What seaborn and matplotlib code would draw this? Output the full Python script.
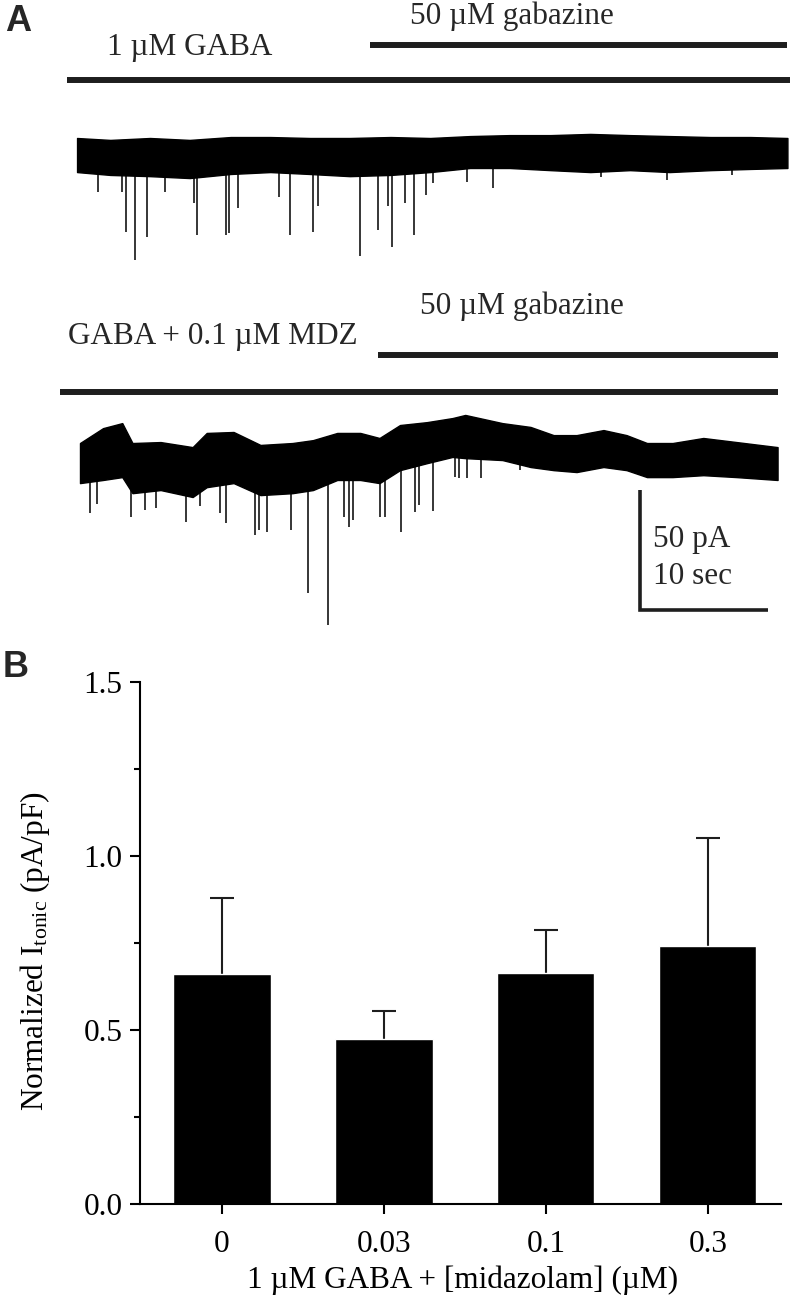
import numpy as np
import pandas as pd
import matplotlib
matplotlib.use("Agg")
import matplotlib.pyplot as plt
import seaborn as sns

# ---- panel B: normalized tonic current ----
conc_labels = ["0", "0.03", "0.1", "0.3"]
itonic_mean = [0.661, 0.474, 0.664, 0.741]
itonic_sem = [0.218, 0.079, 0.122, 0.309]

# ---- panel A, trace 1 (1 uM GABA -> gabazine) ----
# noise envelope (s, pA relative to holding level)
tr1_t = [0.0, 2.6, 5.7, 8.8, 12.0, 15.1, 18.2, 21.3, 24.5, 27.6,
         30.7, 33.8, 37.0, 40.1, 43.2, 46.3, 49.5, 52.6, 55.5]
tr1_hi = [7.1, 6.3, 7.1, 6.3, 7.5, 7.5, 7.1, 7.1, 7.5, 7.1,
          7.9, 8.3, 8.3, 8.8, 8.3, 7.9, 7.5, 7.5, 7.1]
tr1_lo = [-7.1, -8.3, -8.8, -9.6, -7.9, -7.1, -7.9, -8.8, -8.3, -7.1,
          -5.4, -5.4, -6.3, -7.1, -6.3, -7.1, -6.3, -5.8, -5.4]
# spontaneous events: time (s), peak (pA)
ev1_t = [1.6, 3.5, 3.8, 4.5, 5.5, 6.9, 9.1, 9.4, 11.6, 11.9, 12.6, 15.8,
         16.6, 18.4, 18.8, 22.1, 23.5, 24.3, 24.6, 25.6, 26.3, 27.3, 27.8,
         30.5, 32.5, 40.9, 46.1, 51.2]
ev1_amp = [-15.4, -15.4, -32.1, -43.8, -34.2, -15.4, -20.0, -33.3, -33.3,
           -32.5, -22.1, -17.5, -33.3, -32.1, -21.3, -42.1, -31.3, -21.3,
           -38.3, -20.0, -33.3, -16.7, -11.7, -11.3, -13.8, -9.2, -10.4, -8.3]

# ---- panel A, trace 2 (GABA + 0.1 uM MDZ -> gabazine) ----
tr2_t = [0.0, 1.8, 3.3, 4.1, 6.3, 8.8, 9.9, 12.0, 14.1, 16.6, 18.2, 20.1,
         21.9, 23.4, 25.0, 27.1, 29.1, 30.1, 33.0, 35.2, 37.0, 38.8, 40.9,
         42.7, 44.3, 46.3, 48.7, 51.3, 54.5]
tr2_hi = [7.1, 13.3, 15.4, 7.1, 7.5, 5.4, 11.3, 11.7, 6.3, 7.1, 8.3, 11.3,
          11.3, 9.2, 14.6, 15.8, 17.5, 18.8, 15.4, 13.8, 10.4, 10.4, 12.5,
          10.4, 7.1, 7.1, 9.2, 7.5, 5.4]
tr2_lo = [-9.6, -8.3, -7.1, -13.8, -12.5, -15.4, -11.3, -9.6, -14.6, -13.8,
          -12.5, -8.3, -8.3, -9.6, -4.2, -1.3, 1.3, 0.8, 0.0, -2.9, -4.2,
          -5.0, -2.9, -4.2, -7.1, -7.1, -6.3, -7.1, -8.3]
ev2_t = [0.8, 1.3, 4.0, 5.1, 5.9, 8.3, 9.4, 10.9, 11.4, 13.7, 14.0, 14.6,
         16.5, 17.8, 19.4, 20.6, 21.0, 21.3, 23.4, 23.8, 25.1, 26.2, 26.5,
         27.6, 29.3, 29.6, 30.2, 31.3, 34.4]
ev2_amp = [-22.1, -18.3, -23.8, -20.8, -20.0, -25.8, -19.2, -22.1, -26.3,
           -31.3, -29.2, -30.0, -29.2, -55.4, -68.8, -23.8, -27.9, -25.0,
           -23.8, -23.8, -30.0, -21.7, -18.8, -21.3, -7.1, -7.5, -7.5, -7.5,
           -4.2]

scale_pa = 50
scale_sec = 10

sns.set_theme(style="ticks")
plt.rcParams["font.family"] = ["Liberation Serif", "DejaVu Serif"]
plt.rcParams["mathtext.fontset"] = "custom"
plt.rcParams["mathtext.rm"] = "Liberation Serif"
plt.rcParams["mathtext.it"] = "Liberation Serif:italic"

FS = 22.5
INK = "#1e1e1e"

fig = plt.figure(figsize=(7.91, 13.02), dpi=100)

# ================= panel A =================
ax_a = fig.add_axes([0, 0.5084, 1, 0.4916])
ax_a.set_xlim(-6.02, 55.78)
ax_a.set_ylim(-202.1, 64.6)
ax_a.axis("off")


def draw_trace(ax, t, hi, lo, ev_t, ev_amp, t0, y0):
    t = np.asarray(t) + t0
    hi = np.asarray(hi) + y0
    lo = np.asarray(lo) + y0
    ax.fill_between(t, lo, hi, color="black", lw=1.0, edgecolor="black")
    start = np.interp(np.asarray(ev_t) + t0, t, lo) + 1
    ax.vlines(np.asarray(ev_t) + t0, start, np.asarray(ev_amp) + y0,
              color="black", lw=1.1)


draw_trace(ax_a, tr1_t, tr1_hi, tr1_lo, ev1_t, ev1_amp, 0.0, 0.0)
draw_trace(ax_a, tr2_t, tr2_hi, tr2_lo, ev2_t, ev2_amp, 0.23, -127.1)

# drug application bars
ax_a.hlines(31.3, -0.78, 55.7, color=INK, lw=4.3)
ax_a.hlines(45.8, 22.9, 55.5, color=INK, lw=4.3)
ax_a.text(2.34, 44.6, "1 \u00b5M GABA", fontsize=FS, va="center", ha="left")
ax_a.text(26.0, 57.8, "50 \u00b5M gabazine", fontsize=FS, va="center", ha="left")

ax_a.hlines(-98.75, -1.33, 54.8, color=INK, lw=4.3)
ax_a.hlines(-83.3, 23.5, 54.8, color=INK, lw=4.3)
ax_a.text(-0.70, -75.8, "GABA + 0.1 \u00b5M MDZ", fontsize=FS, va="center", ha="left")
ax_a.text(26.8, -62.9, "50 \u00b5M gabazine", fontsize=FS, va="center", ha="left")

# scale bar
sb_t, sb_y = 44.0, -189.6
ax_a.plot([sb_t, sb_t, sb_t + scale_sec], [sb_y + scale_pa, sb_y, sb_y],
          color=INK, lw=2.6, solid_joinstyle="miter", solid_capstyle="butt")
ax_a.text(sb_t + 1.0, sb_y + 29.2, f"{scale_pa} pA", fontsize=FS, va="center", ha="left")
ax_a.text(sb_t + 1.0, sb_y + 13.8, f"{scale_sec} sec", fontsize=FS, va="center", ha="left")

# ================= panel B =================
ax_b = fig.add_axes([0.177, 0.0753, 0.810, 0.401])
df = pd.DataFrame({"conc": conc_labels, "itonic": itonic_mean})
sns.barplot(data=df, x="conc", y="itonic", color="black", saturation=1,
            width=0.6, errorbar=None, ax=ax_b)
# upper SEM whiskers
xpos = np.arange(len(conc_labels))
top = np.array(itonic_mean) + np.array(itonic_sem)
ax_b.vlines(xpos, itonic_mean, top, color=INK, lw=1.5, zorder=0.5)
ax_b.hlines(top, xpos - 0.075, xpos + 0.075, color=INK, lw=1.5, zorder=0.5)
ax_b.set_xlim(-0.506, 3.45)
ax_b.set_ylim(0, 1.5)
ax_b.set_yticks([0, 0.5, 1.0, 1.5])
ax_b.set_yticklabels(["0.0", "0.5", "1.0", "1.5"])
ax_b.set_yticks([0.25, 0.75, 1.25], minor=True)
sns.despine(ax=ax_b)
for s in ["left", "bottom"]:
    ax_b.spines[s].set_linewidth(1.5)
    ax_b.spines[s].set_color("black")
ax_b.tick_params(axis="both", which="major", direction="out", length=7.5,
                 width=1.5, color="black", labelsize=FS, labelcolor="black")
ax_b.tick_params(axis="y", which="minor", direction="out", length=4,
                 width=1.5, color="black")
ax_b.tick_params(axis="x", pad=11)
ax_b.tick_params(axis="y", pad=5)
ax_b.set_xlabel("1 \u00b5M GABA + [midazolam] (\u00b5M)", fontsize=FS, color="black")
ax_b.set_ylabel("Normalized I$_{\\mathregular{tonic}}$ (pA/pF)", fontsize=FS, color="black")
ax_b.xaxis.set_label_coords(0.504, -0.118)
ax_b.yaxis.set_label_coords(-0.137, 0.485)

# panel letters
fig.text(0.006, 0.997, "A", fontsize=26, fontweight="bold", family="Liberation Sans",
         ha="left", va="top")
fig.text(0.003, 0.501, "B", fontsize=26, fontweight="bold", family="Liberation Sans",
         ha="left", va="top")

fig.savefig("out.png", dpi=100)
